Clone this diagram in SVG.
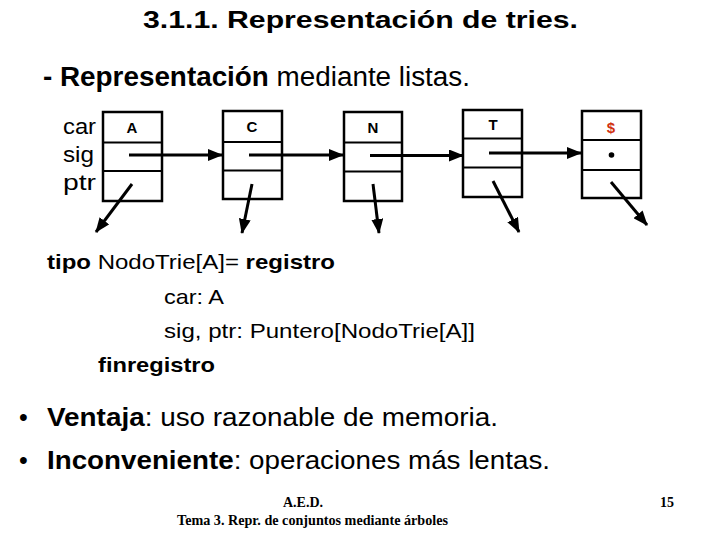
<svg xmlns="http://www.w3.org/2000/svg" width="720" height="540" viewBox="0 0 720 540">
<defs>
<style>
.box{fill:#fff;stroke:#000;stroke-width:2.5}
.div{stroke:#000;stroke-width:2}
.ar{stroke:#000;stroke-width:3;fill:none;marker-end:url(#ah)}
.t{font-family:"Liberation Sans",Arial,sans-serif;fill:#000}
.b{font-weight:bold}
.lt{font-family:"Liberation Sans",Arial,sans-serif;font-size:15px;font-weight:bold;text-anchor:middle}
.ft{font-family:"Liberation Serif","Times New Roman",serif;font-size:14px;font-weight:bold;fill:#000}
</style>
<marker id="ah" viewBox="0 0 15 12" refX="14" refY="6" markerWidth="15" markerHeight="12" markerUnits="userSpaceOnUse" orient="auto">
<path d="M0,0 L15,6 L0,12 Z" fill="#000"/>
</marker>
</defs>
<rect width="720" height="540" fill="#fff"/>
<text class="t b" x="143" y="28" font-size="24" textLength="435" lengthAdjust="spacingAndGlyphs">3.1.1. Representación de tries.</text>
<text class="t" x="43" y="86" font-size="27" textLength="427" lengthAdjust="spacingAndGlyphs"><tspan font-weight="bold">- Representación</tspan> mediante listas.</text>
<g class="t" font-size="22">
<text x="63" y="134" textLength="33" lengthAdjust="spacingAndGlyphs">car</text>
<text x="63" y="162" textLength="31" lengthAdjust="spacingAndGlyphs">sig</text>
<text x="63" y="190" textLength="33" lengthAdjust="spacingAndGlyphs">ptr</text>
</g>
<g id="nodeA">
<rect class="box" x="103" y="112" width="59" height="89"/>
<line class="div" x1="103" y1="142.5" x2="162" y2="142.5"/>
<line class="div" x1="103" y1="171" x2="162" y2="171"/>
<text class="lt" x="132" y="133">A</text>
</g>
<g id="nodeC">
<rect class="box" x="223" y="111" width="59" height="88"/>
<line class="div" x1="223" y1="142" x2="282" y2="142"/>
<line class="div" x1="223" y1="170.5" x2="282" y2="170.5"/>
<text class="lt" x="252" y="132">C</text>
</g>
<g id="nodeN">
<rect class="box" x="344" y="112" width="58" height="89"/>
<line class="div" x1="344" y1="142.5" x2="402" y2="142.5"/>
<line class="div" x1="344" y1="171.5" x2="402" y2="171.5"/>
<text class="lt" x="373" y="133">N</text>
</g>
<g id="nodeT">
<rect class="box" x="463" y="110" width="59" height="87"/>
<line class="div" x1="463" y1="138.5" x2="522" y2="138.5"/>
<line class="div" x1="463" y1="167.5" x2="522" y2="167.5"/>
<text class="lt" x="493" y="130">T</text>
</g>
<g id="nodeDollar">
<rect class="box" x="582" y="111" width="59" height="87"/>
<line class="div" x1="582" y1="140" x2="641" y2="140"/>
<line class="div" x1="582" y1="170" x2="641" y2="170"/>
<text class="lt" x="611" y="133" fill="#d03010" font-size="17">$</text>
<circle cx="611.5" cy="155" r="2.8" fill="#000"/>
</g>
<g id="connectors">
<line class="ar" x1="129" y1="155" x2="222" y2="155"/>
<line class="ar" x1="249" y1="155" x2="343" y2="155"/>
<line class="ar" x1="370" y1="155.5" x2="463" y2="155.5"/>
<line class="ar" x1="489" y1="153" x2="581" y2="153"/>
<line class="ar" x1="132" y1="184" x2="96" y2="232"/>
<line class="ar" x1="252" y1="184" x2="242" y2="233"/>
<line class="ar" x1="373" y1="184" x2="379" y2="233"/>
<line class="ar" x1="493" y1="181" x2="519" y2="232"/>
<line class="ar" x1="611" y1="182" x2="647" y2="225"/>
</g>
<g class="t" font-size="21">
<text x="47" y="269" textLength="288" lengthAdjust="spacingAndGlyphs"><tspan font-weight="bold">tipo</tspan> NodoTrie[A]= <tspan font-weight="bold">registro</tspan></text>
<text x="164" y="304" textLength="60" lengthAdjust="spacingAndGlyphs">car: A</text>
<text x="164" y="338" textLength="311" lengthAdjust="spacingAndGlyphs">sig, ptr: Puntero[NodoTrie[A]]</text>
<text x="98" y="372" font-weight="bold" textLength="117" lengthAdjust="spacingAndGlyphs">finregistro</text>
</g>
<g class="t" font-size="25">
<text x="19" y="426">•</text>
<text x="47" y="426" textLength="451" lengthAdjust="spacingAndGlyphs"><tspan font-weight="bold">Ventaja</tspan>: uso razonable de memoria.</text>
<text x="19" y="469">•</text>
<text x="47" y="469" textLength="503" lengthAdjust="spacingAndGlyphs"><tspan font-weight="bold">Inconveniente</tspan>: operaciones más lentas.</text>
</g>
<text class="ft" x="303" y="507" text-anchor="middle">A.E.D.</text>
<text class="ft" x="177" y="525" textLength="271" lengthAdjust="spacingAndGlyphs">Tema 3. Repr. de conjuntos mediante árboles</text>
<text class="ft" x="660" y="507">15</text>
</svg>
